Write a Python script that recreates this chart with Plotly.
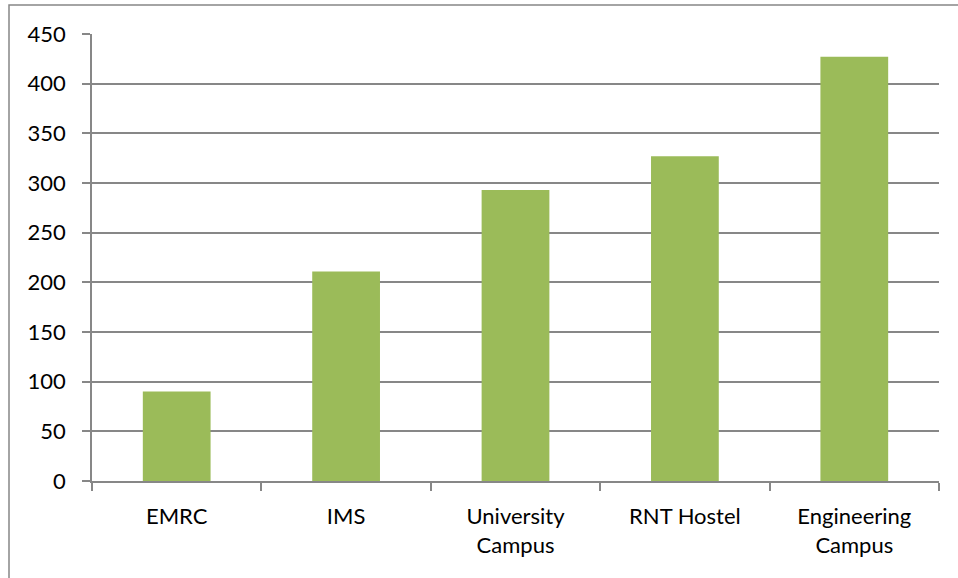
import plotly.graph_objects as go

categories = ["EMRC", "IMS", "University<br>Campus", "RNT Hostel", "Engineering<br>Campus"]
values = [90, 211, 293, 327, 427]
y_ticks = [0, 50, 100, 150, 200, 250, 300, 350, 400, 450]

W, H = 958, 578
L, R, T, B = 92, 19, 34, 97
pw, ph = W - L - R, H - T - B

fig = go.Figure(go.Bar(
    x=categories, y=values,
    marker=dict(color="#9BBB59", line=dict(width=0)),
    width=0.4,
))

grid = "#878787"
fig.update_layout(
    width=W, height=H,
    margin=dict(l=L, r=R, t=T, b=B, autoexpand=False),
    paper_bgcolor="white", plot_bgcolor="white",
    font=dict(family="Lato, Carlito, Calibri, sans-serif", size=22, color="#000000"),
    showlegend=False,
    bargap=0.6,
)
fig.update_yaxes(
    range=[0, 450], tickvals=y_ticks, showgrid=True, gridcolor=grid, gridwidth=1.5,
    showline=True, linecolor=grid, linewidth=1.5, automargin=False,
    ticks="outside", ticklen=8, tickcolor=grid, tickwidth=1.5, zeroline=False,
    ticklabelstandoff=12,
)
fig.update_xaxes(
    showline=True, linecolor=grid, linewidth=1.5, automargin=False,
    ticks="outside", ticklen=8, tickcolor=grid, tickwidth=1.5, tickson="boundaries",
    showgrid=False, ticklabelstandoff=15,
)
fig.add_shape(
    type="rect", xref="paper", yref="paper",
    x0=(9 - L) / pw, x1=(W + 5 - L) / pw,
    y0=-(H + 5 - (H - B)) / ph, y1=(H - B - 5) / ph,
    line=dict(color="#878787", width=1.5), fillcolor="rgba(0,0,0,0)", layer="below",
)
fig.write_html(
    "out.html",
    config={"displayModeBar": False},
    post_script="document.body.style.margin='0';document.body.style.overflow='hidden';",
)
